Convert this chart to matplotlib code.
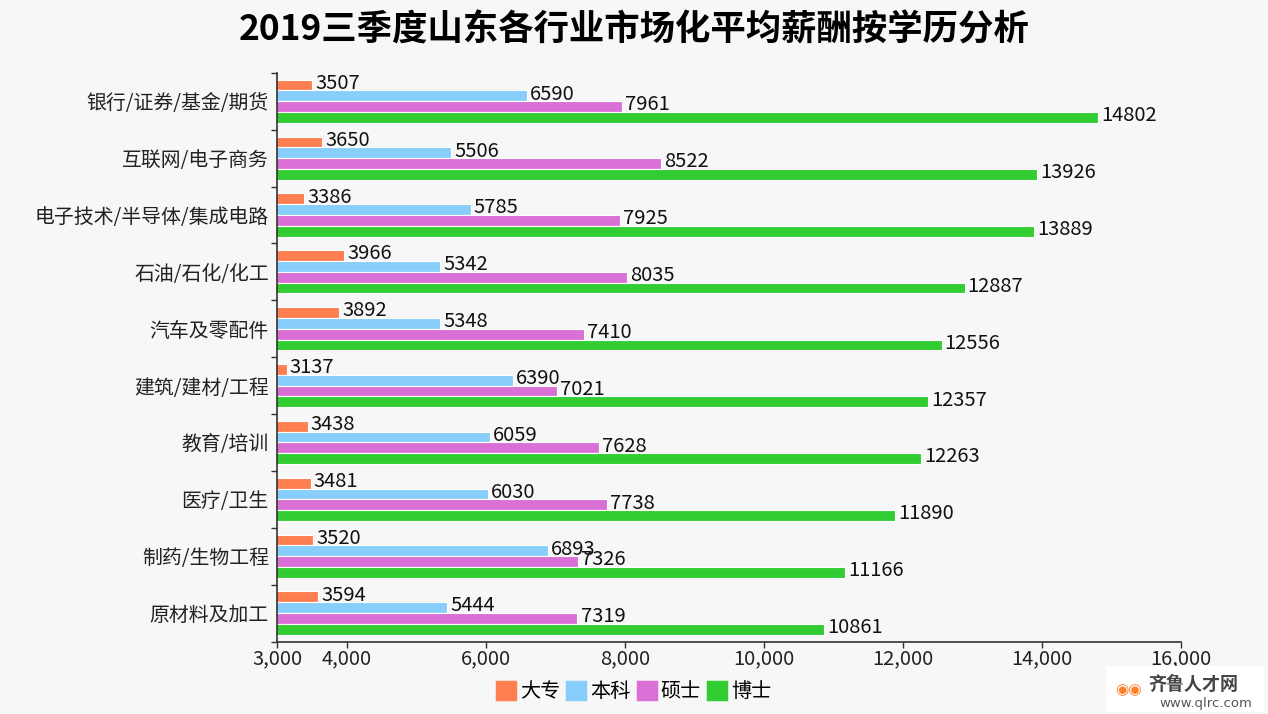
import numpy as np
import matplotlib
matplotlib.use("Agg")
import matplotlib.pyplot as plt
from matplotlib.patches import Patch

plt.rcParams['font.family'] = ['Noto Sans CJK SC', 'DejaVu Sans']

# data
industries = ["银行/证券/基金/期货", "互联网/电子商务", "电子技术/半导体/集成电路",
              "石油/石化/化工", "汽车及零配件", "建筑/建材/工程", "教育/培训",
              "医疗/卫生", "制药/生物工程", "原材料及加工"]
dazhuan = [3507, 3650, 3386, 3966, 3892, 3137, 3438, 3481, 3520, 3594]
benke = [6590, 5506, 5785, 5342, 5348, 6390, 6059, 6030, 6893, 5444]
shuoshi = [7961, 8522, 7925, 8035, 7410, 7021, 7628, 7738, 7326, 7319]
boshi = [14802, 13926, 13889, 12887, 12556, 12357, 12263, 11890, 11166, 10861]

series_names = ["大专", "本科", "硕士", "博士"]
colors = ["#FF7F50", "#87CEFA", "#DA70D6", "#32CD32"]
xticks = [3000, 4000, 6000, 8000, 10000, 12000, 14000, 16000]

bg = "#f7f7f7"
fig = plt.figure(figsize=(12.68, 7.14), dpi=100, facecolor=bg)
ax = fig.add_axes([0.2185, 0.1015, 0.9314 - 0.2185, 0.898 - 0.1015], facecolor=bg)

y = np.arange(len(industries))
h = 0.19
offsets = [-1.5 * h, -0.5 * h, 0.5 * h, 1.5 * h]
for vals, name, c, off in zip([dazhuan, benke, shuoshi, boshi], series_names, colors, offsets):
    ax.barh(y + off, vals, height=h, color=c, edgecolor="white", linewidth=0.8, label=name)
    for yi, v in zip(y, vals):
        ax.text(v + 45, yi + off - 0.03, str(v), va="center", ha="left",
                fontsize=14.5, color="#111111")

ax.set_xlim(3000, 16000)
ax.set_ylim(len(industries) - 0.5, -0.5)
ax.set_xticks(xticks)
ax.set_xticklabels([f"{t:,}" for t in xticks], fontsize=14.5, color="#222222")
ax.set_yticks(y)
ax.set_yticklabels(industries, fontsize=14.3, color="#222222")
ax.tick_params(axis="y", length=0, pad=6)
ax.set_yticks(np.arange(-0.5, len(industries)), minor=True)
ax.tick_params(axis="y", which="minor", length=4, width=1, color="#333333")
ax.tick_params(axis="x", length=4, width=1, color="#333333", pad=1)

for s in ["top", "right"]:
    ax.spines[s].set_visible(False)
for s in ["left", "bottom"]:
    ax.spines[s].set_color("#333333")
    ax.spines[s].set_linewidth(1.2)

fig.text(0.5, 0.958, "2019三季度山东各行业市场化平均薪酬按学历分析",
         ha="center", va="center", fontsize=25.5, fontweight="bold", color="#000000")

handles = [Patch(facecolor=c, edgecolor=c, linewidth=2.5, joinstyle="round") for c in colors]
leg = fig.legend(handles, series_names, loc="center", bbox_to_anchor=(0.5, 0.031),
                 ncol=4, frameon=False, fontsize=14.5, handlelength=0.9, handleheight=0.9,
                 handletextpad=0.25, columnspacing=0.35)

# watermark logo box
fig.patches.append(plt.Rectangle((1106 / 1268, 2 / 714), 158 / 1268, 46 / 714,
                                 transform=fig.transFigure, facecolor="white",
                                 edgecolor="none", zorder=5))
fig.text(1148 / 1268, 1 - 684 / 714, "齐鲁人才网", fontsize=13, fontweight="bold",
         color="#444444", va="center", ha="left", zorder=6)
fig.text(1159 / 1268, 1 - 703 / 714, "www.qlrc.com", fontsize=9.5,
         color="#555555", va="center", ha="left", zorder=6, family="DejaVu Sans")
fig.text(1128 / 1268, 1 - 690 / 714, "◉◉", fontsize=11, color="#FF7F27",
         va="center", ha="center", zorder=6, family="DejaVu Sans")

fig.savefig("out.png", dpi=100, facecolor=bg)
